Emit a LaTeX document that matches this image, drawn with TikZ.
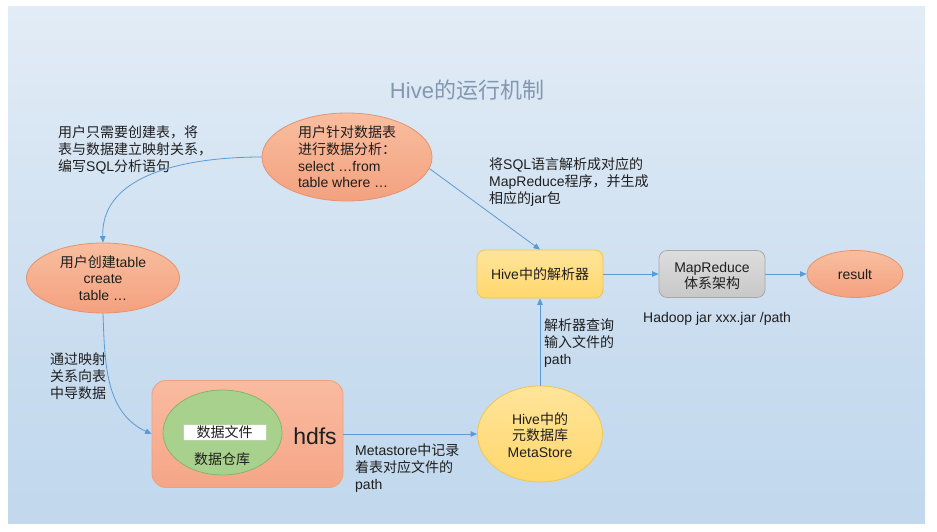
\documentclass[tikz,border=0pt]{standalone}
\usepackage{fontspec}
\setmainfont{Liberation Sans}
\newfontfamily\cjk{Noto Sans CJK SC}
\usetikzlibrary{shapes.geometric,arrows.meta}
\newcommand\zh[1]{{\cjk #1}}
\definecolor{ptop}{HTML}{F6F9FC}
\definecolor{pmidA}{HTML}{E2ECF6}
\definecolor{pmidB}{HTML}{C8DCEF}
\definecolor{pbot}{HTML}{B9D3EB}
\definecolor{pend}{HTML}{C6DCEF}
\definecolor{arrowc}{HTML}{5B9BD5}
\definecolor{txtc}{HTML}{1E1E1E}
\definecolor{titlec}{HTML}{8497B0}
\definecolor{salT}{HTML}{F8BE9F}
\definecolor{salB}{HTML}{F4A17F}
\definecolor{salD}{HTML}{E3946F}
\definecolor{yelT}{HTML}{FFE49A}
\definecolor{yelB}{HTML}{FFD76C}
\definecolor{yelD}{HTML}{F4C451}
\definecolor{grT}{HTML}{DDDDDD}
\definecolor{grB}{HTML}{C8C8C8}
\definecolor{grD}{HTML}{A9A9A9}
\definecolor{hdT}{HTML}{F9BBA0}
\definecolor{hdB}{HTML}{F6A587}
\definecolor{hdD}{HTML}{E8A384}
\definecolor{gnF}{HTML}{A9D18E}
\definecolor{gnD}{HTML}{86B56A}
\pgfdeclareverticalshading{panel}{100bp}{color(0bp)=(pend); color(8bp)=(pbot); color(40bp)=(pmidB); color(75bp)=(pmidA); color(100bp)=(ptop)}
\begin{document}
\begin{tikzpicture}[x=1pt,y=-1pt,
  conn/.style={draw=arrowc, line width=0.8pt, -{Triangle[length=6.5pt,width=5.5pt]}},
  txt/.style={font=\fontsize{14}{16.7}\selectfont, text=txtc, inner sep=0pt, align=left},
  salell/.style={ellipse, draw=salD, line width=0.8pt, top color=salT, bottom color=salB, inner sep=0pt},
  yelbox/.style={rectangle, rounded corners=8, draw=yelD, line width=0.8pt, top color=yelT, bottom color=yelB, inner sep=0pt},
  graybox/.style={rectangle, rounded corners=8, draw=grD, line width=0.8pt, top color=grT, bottom color=grB, inner sep=0pt},
]
\useasboundingbox (0,0) rectangle (937,532);
\fill[white] (0,0) rectangle (937,532);
\shade[shading=panel] (8,7) rectangle (925,523);

% title
\node[text=titlec, font=\fontsize{22}{22}\selectfont, inner sep=0pt] (title) at (467,90) {Hive\zh{的运行机制}};

% ellipses
\node[salell, minimum width=170, minimum height=88] (A) at (347,157) {};
\node[txt] (Atxt) at (A.center) {\zh{用户针对数据表}\\\zh{进行数据分析：}\\select …from\\table where …};

\node[salell, minimum width=153, minimum height=70] (B) at (103,278) {};
\node[txt, align=center] (Btxt) at (B.center) {\zh{用户创建}table\\create\\table …};

% parser, MR, result
\node[yelbox, minimum width=126, minimum height=48] (P) at (540,274) {};
\node[txt, align=center] (Ptxt) at (P.center) {Hive\zh{中的解析器}};

\node[graybox, minimum width=106, minimum height=47] (MR) at (712,274) {};
\node[txt, align=center] (MRtxt) at (712,276) {MapReduce\\\zh{体系架构}};

\node[salell, minimum width=96, minimum height=47] (R) at (855,274) {};
\node[txt] (Rtxt) at (R.center) {result};

% hdfs
\node[rectangle, rounded corners=14, draw=hdD, line width=0.8pt, top color=hdT, bottom color=hdB, minimum width=191, minimum height=107, inner sep=0pt] (H) at (247.5,434) {};
\node[ellipse, draw=gnD, line width=0.8pt, fill=gnF, minimum width=119, minimum height=85, inner sep=0pt] (G) at (222.5,432.5) {};
\node[rectangle, draw=gnD!60, line width=0.5pt, fill=white, minimum width=83, minimum height=16, inner sep=0pt, font=\fontsize{14}{16}\selectfont, text=txtc] (W) at (224.5,432) {\zh{数据文件}};
\node[txt] (Gtxt) at (222,459) {\zh{数据仓库}};
\node[inner sep=0pt, font=\fontsize{23}{23}\selectfont, text=txtc] (hdfs) at (315,436) {hdfs};

% metastore
\node[ellipse, draw=yelD, line width=0.8pt, top color=yelT, bottom color=yelB, minimum width=125, minimum height=96, inner sep=0pt] (M) at (540,434) {};
\node[txt, align=center] (Mtxt) at (540,435) {Hive\zh{中的}\\\zh{元数据库}\\MetaStore};

% labels
\node[txt, anchor=west] (L1) at (58,150) {\zh{用户只需要创建表，将}\\\zh{表与数据建立映射关系，}\\\zh{编写}SQL\zh{分析语句}};
\node[txt, anchor=west] (L2) at (489,182) {\zh{将}SQL\zh{语言解析成对应的}\\MapReduce\zh{程序，并生成}\\\zh{相应的}jar\zh{包}};
\node[txt, anchor=west] (L3) at (643,319) {Hadoop jar xxx.jar /path};
\node[txt, anchor=west] (L4) at (544,343) {\zh{解析器查询}\\\zh{输入文件的}\\path};
\node[txt, anchor=west] (L5) at (355,468) {Metastore\zh{中记录}\\\zh{着表对应文件的}\\path};
\node[txt, anchor=west] (L6) at (50,376) {\zh{通过映射}\\\zh{关系向表}\\\zh{中导数据}};

% connectors
\draw[conn] (A.west) to[out=180,in=92] (B.north);
\draw[conn] (A.-8) -- (P.north);
\draw[conn] (P.east) -- (MR.west);
\draw[conn] (MR.east) -- (R.west);
\draw[conn] (M.north) -- (P.south);
\draw[conn] (H.east) -- (M.west);
\draw[conn] (B.south) to[out=-88,in=155] (H.west);
\end{tikzpicture}
\end{document}
